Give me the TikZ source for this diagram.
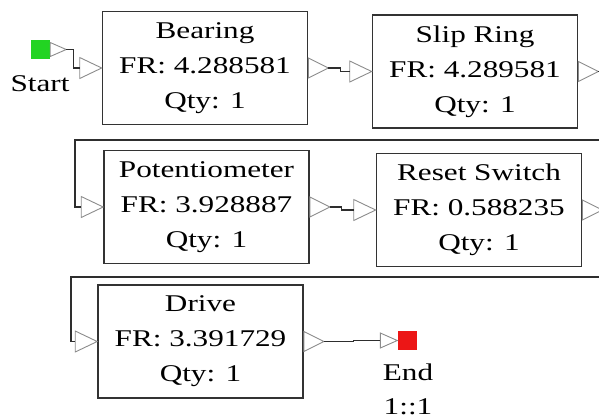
\documentclass[tikz,border=0pt]{standalone}
\usepackage{fontspec}
\setmainfont{Liberation Serif}[FakeStretch=1.3]
\definecolor{boxline}{HTML}{333333}
\definecolor{wireline}{HTML}{2E2E2E}
\definecolor{portline}{HTML}{8C8C8C}
\definecolor{startgreen}{HTML}{22D422}
\definecolor{endred}{HTML}{EC1616}
\begin{document}
\begin{tikzpicture}[x=1pt,y=-1pt,
  part/.style={draw=boxline, line width=1.6pt, minimum width=205pt,
    minimum height=113pt, inner sep=0pt, align=center,
    font=\fontsize{24}{35}\selectfont},
  lbl/.style={inner sep=0pt, align=center, font=\fontsize{24}{35}\selectfont},
  port/.style={draw=portline, line width=0.9pt, line join=miter},
  wire/.style={draw=wireline, line width=1.3pt},
  terminal/.style={minimum size=19pt, inner sep=0pt}
]
\path[use as bounding box, fill=white] (0,0) rectangle (599,418);

% blocks
\node[part] (b) at (205,68)    {Bearing\\FR: 4.288581\\Qty: 1};
\node[part] (s) at (475,71.5)  {Slip Ring\\FR: 4.289581\\Qty: 1};
\node[part] (p) at (206.5,207) {Potentiometer\\FR: 3.928887\\Qty: 1};
\node[part] (r) at (479,210)   {Reset Switch\\FR: 0.588235\\Qty: 1};
\node[part] (d) at (200.5,341.5) {Drive\\FR: 3.391729\\Qty: 1};

% start and end terminals
\node[terminal, fill=startgreen] (st) at (40.5,49.5) {};
\node[lbl, anchor=base] (stl) at (40,91) {Start};
\node[terminal, fill=endred] (en) at (407,340.5) {};
% the base anchor of a multi-line node sits on its last line
\node[lbl, anchor=base, font=\fontsize{24}{34}\selectfont] (enl) at (408,414) {End\\1::1};

% port points: outputs (triangle tips) and inputs (triangle bases)
\foreach \n in {b,s,p,r,d}{
  \coordinate (\n-out) at ([xshift=20pt]\n.east);
  \coordinate (\n-in) at ([xshift=-22pt]\n.west);
  \draw[port] ([yshift=10pt]\n.east) -- (\n-out) -- ([yshift=-10pt]\n.east) -- cycle;
  \draw[port] (\n.west) -- ([yshift=10.5pt]\n-in) -- ([yshift=-10.5pt]\n-in) -- cycle;
}
\coordinate (st-out) at ([xshift=16pt]st.east);
\draw[port] ([yshift=7pt]st.east) -- (st-out) -- ([yshift=-7pt]st.east) -- cycle;
\coordinate (en-in) at ([xshift=-17pt]en.west);
\draw[port] (en.west) -- ([yshift=7.5pt]en-in) -- ([yshift=-7.5pt]en-in) -- cycle;

% return paths between rows
\coordinate (turn1) at (75,140);
\coordinate (turn2) at (71,277);

% connectors
\draw[wire] (st-out) -- ++(7,0) |- (b-in);
\draw[wire] (b-out) -- ++(12,0) |- (s-in);
\draw[wire] (s-out) -- ++(10,0) |- (turn1) |- (p-in);
\draw[wire] (p-out) -- ++(12,0) |- (r-in);
\draw[wire] (r-out) -- ++(10,0) |- (turn2) |- (d-in);
\draw[wire] (d-out) -- ++(30,0) |- (en-in);
\end{tikzpicture}
\end{document}
